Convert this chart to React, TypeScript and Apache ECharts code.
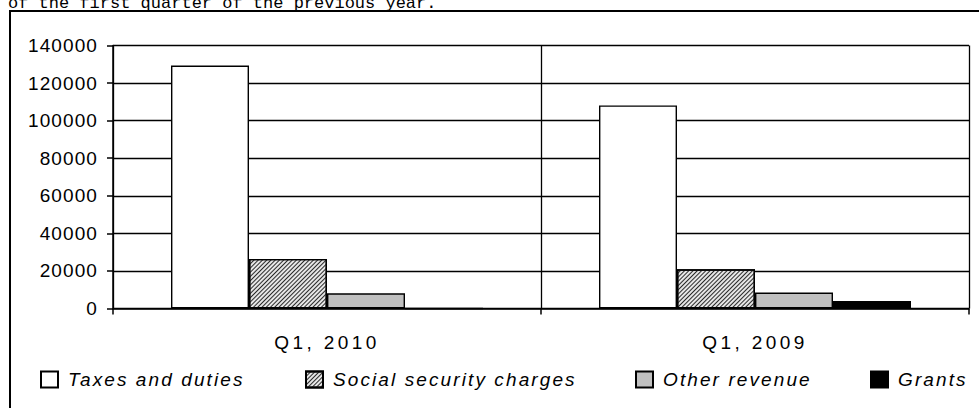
import React, { useEffect, useRef } from "react";
import * as echarts from "echarts";

const headerText = "of the first quarter of the previous year.";
const categories = ["Q1, 2010", "Q1, 2009"];
const seriesNames = ["Taxes and duties", "Social security charges", "Other revenue", "Grants"];
const taxesAndDuties = [129300, 108100];
const socialSecurityCharges = [26400, 20900];
const otherRevenue = [8100, 8500];
const grants = [0, 4000];
const yMin = 0;
const yMax = 140000;
const yStep = 20000;

export default function App() {
  const ref = useRef<HTMLDivElement>(null);

  useEffect(() => {
    if (!ref.current) return;
    const chart = echarts.init(ref.current, null, { renderer: "svg" });
    const font = "'Liberation Sans', Arial, sans-serif";
    const border = { borderColor: "#000", borderWidth: 1.4 };
    const legendLefts = [40, 305, 635, 870];
    const hatch = {
      symbol: "rect",
      symbolSize: 1,
      dashArrayX: [1, 0],
      dashArrayY: [1, 1.2],
      rotation: -Math.PI / 4,
      color: "#2a2a2a",
    };
    const values = [taxesAndDuties, socialSecurityCharges, otherRevenue, grants];
    const itemStyles: any[] = [
      { color: "#ffffff", ...border },
      { color: "#e6e6e6", decal: hatch, ...border },
      { color: "#c0c0c0", ...border },
      { color: "#000000", ...border },
    ];

    chart.setOption({
      animation: false,
      graphic: [
        {
          type: "rect",
          shape: { x: 10, y: 11, width: 1000, height: 1000 },
          style: { fill: "none", stroke: "#000", lineWidth: 2 },
          silent: true,
        },
      ],
      legend: seriesNames.map((name, i) => ({
        data: [name],
        left: legendLefts[i],
        top: 370,
        padding: 0,
        itemWidth: 17,
        itemHeight: 16,
        icon: "rect",
        selectedMode: false,
        textStyle: {
          fontFamily: font,
          fontStyle: "italic",
          fontSize: 19,
          color: "#000",
          padding: [0, 0, 0, 5],
        },
      })),
      grid: {
        left: 113,
        right: 10,
        top: 45.5,
        bottom: 99.5,
        containLabel: false,
        outerBoundsMode: "none",
      },
      xAxis: {
        type: "category",
        data: categories,
        boundaryGap: true,
        axisLine: { show: true, lineStyle: { color: "#000", width: 1.5 } },
        axisTick: { show: true, length: 6, alignWithLabel: false, lineStyle: { color: "#000", width: 1.5 } },
        splitLine: { show: true, lineStyle: { color: "#000", width: 1.3 } },
        axisLabel: { fontFamily: font, fontSize: 19, color: "#000", margin: 24 },
      },
      yAxis: {
        type: "value",
        min: yMin,
        max: yMax,
        interval: yStep,
        axisLine: { show: true, lineStyle: { color: "#000", width: 1.5 } },
        axisTick: { show: true, length: 6, lineStyle: { color: "#000", width: 1.5 } },
        splitLine: { show: true, lineStyle: { color: "#000", width: 1.3 } },
        axisLabel: {
          fontFamily: font,
          fontSize: 19,
          color: "#000",
          margin: 15,
          formatter: (v: number) => String(v),
        },
      },
      series: seriesNames.map((name, i) => ({
        name,
        type: "bar",
        data: values[i],
        barWidth: 78,
        barGap: "0%",
        itemStyle: itemStyles[i],
        emphasis: { disabled: true },
      })),
    });

    return () => chart.dispose();
  }, []);

  return (
    <div
      style={{
        position: "absolute",
        left: 0,
        top: 0,
        width: 979,
        height: 408,
        overflow: "hidden",
        background: "#fff",
      }}
    >
      <style>{`
        .chartbox text[text-anchor="end"] { letter-spacing: 1.1px; }
        .chartbox text[text-anchor="middle"] { letter-spacing: 3.4px; }
        .chartbox text[text-anchor="start"] { letter-spacing: 2.1px; }
      `}</style>
      <div
        ref={ref}
        className="chartbox"
        style={{ position: "absolute", left: 0, top: 0, width: 979, height: 408 }}
      />
      <div
        style={{
          position: "absolute",
          left: 8,
          top: -6.5,
          fontFamily: "'Liberation Mono', 'Courier New', monospace",
          fontSize: 17,
          lineHeight: "19px",
          whiteSpace: "pre",
          color: "#000",
        }}
      >
        {headerText}
      </div>
    </div>
  );
}
